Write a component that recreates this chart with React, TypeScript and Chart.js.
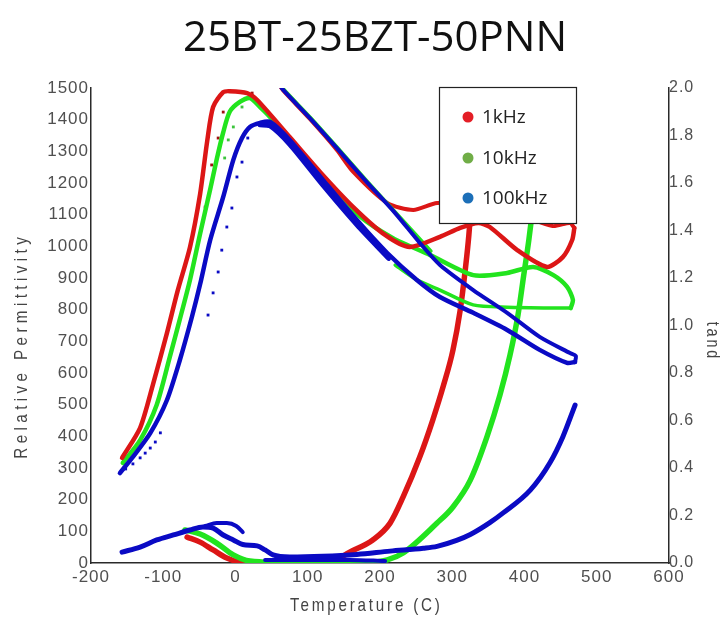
import React, { useEffect, useRef } from 'react';
import { Chart, registerables } from 'chart.js';

Chart.register(...registerables);

type P = [number, number];

const TITLE = '25BT-25BZT-50PNN';
const SERIES_NAMES = ['1kHz', '10kHz', '100kHz'];
const X_TITLE = 'Temperature (C)';
const Y_TITLE = 'Relative Permittivity';
const Y2_TITLE = 'tand';
const X_TICKS = [-200, -100, 0, 100, 200, 300, 400, 500, 600];
const PERM_TICKS = [0, 100, 200, 300, 400, 500, 600, 700, 800, 900, 1000, 1100, 1200, 1300, 1400, 1500];
const TAN_TICKS = [0, 0.2, 0.4, 0.6, 0.8, 1.0, 1.2, 1.4, 1.6, 1.8, 2.0];

// ---- 1 kHz ----
const perm1kLower: P[] = [
  [-157, 332], [-132, 427], [-114, 566], [-95, 725], [-80, 860], [-63, 997], [-49, 1165], [-39, 1335],
  [-31, 1440], [-17, 1487], [-8, 1490], [16, 1484], [30, 1462], [75, 1345], [117, 1235], [163, 1124],
  [207, 1036], [241, 998], [283, 1030], [311, 1058], [336, 1074], [352, 1061], [390, 988], [431, 935],
  [453, 966], [466, 1020], [469, 1058],
];
const perm1kUpper: P[] = [
  [469, 1058], [463, 1074], [439, 1064], [394, 1099], [339, 1131], [279, 1137], [246, 1115], [210, 1137],
  [163, 1235], [140, 1305], [103, 1402], [66, 1492], [60, 1513],
];
const perm1kDots: P[] = [
  [23, 1484], [-17, 1424], [-24, 1342], [-33, 1257], [-42, 1124],
];
const tan1k: P[] = [
  [-67, 0.109], [-49, 0.088], [-31, 0.055], [-12, 0.021], [6, 0.004], [62, 0.0], [131, 0.004], [158, 0.046],
  [190, 0.097], [214, 0.168], [232, 0.278], [255, 0.446], [273, 0.602], [288, 0.749], [301, 0.897],
  [311, 1.065], [318, 1.234], [323, 1.381], [327, 1.549],
];

// ---- 10 kHz ----
const perm10kLower: P[] = [
  [-156, 316], [-132, 388], [-109, 500], [-91, 650], [-77, 770], [-63, 894], [-49, 1040], [-35, 1180],
  [-26, 1275], [-17, 1360], [-8, 1425], [6, 1456], [20, 1468], [34, 1440], [48, 1408], [89, 1300],
  [131, 1192], [172, 1095], [218, 1026], [269, 973], [329, 909], [376, 916], [412, 935], [440, 909],
  [459, 872], [467, 831], [464, 805],
];
const perm10kReturn: P[] = [
  [464, 805], [459, 805], [376, 808], [329, 815], [283, 862], [251, 894], [221, 941],
];
const perm10kUpper: P[] = [
  [270, 985], [222, 1105], [180, 1210], [141, 1311], [104, 1405], [67, 1494], [61, 1513],
];
const perm10kDots: P[] = [
  [9, 1440], [-3, 1377], [-10, 1336], [-15, 1279],
];
const tan10k: P[] = [
  [-70, 0.139], [-49, 0.122], [-26, 0.084], [-3, 0.034], [20, 0.008], [89, 0.0], [172, 0.0], [210, 0.013],
  [232, 0.042], [279, 0.168], [301, 0.236], [325, 0.349], [348, 0.531], [366, 0.707], [380, 0.876],
  [391, 1.044], [399, 1.213], [406, 1.36], [412, 1.507],
];

// ---- 100 kHz ----
const perm100kLower: P[] = [
  [-160, 284], [-142, 335], [-118, 410], [-95, 514], [-77, 641], [-60, 780], [-49, 880], [-35, 1020],
  [-17, 1156], [-3, 1273], [9, 1342], [20, 1377], [34, 1390], [48, 1393], [75, 1336], [121, 1210],
  [168, 1083], [210, 979], [251, 894], [283, 840], [329, 790], [376, 736], [421, 673], [459, 632], [470, 635],
];
const perm100kReturn: P[] = [
  [212, 962], [168, 1068], [121, 1193], [75, 1322], [48, 1380], [34, 1384],
];
const perm100kUpper: P[] = [
  [470, 635], [471, 654], [463, 663], [421, 714], [376, 790], [329, 862], [283, 941], [255, 1011],
  [221, 1105], [179, 1210], [140, 1311], [103, 1405], [66, 1494], [60, 1513],
];
const perm100kDots: P[] = [
  [17, 1342], [9, 1266], [2, 1219], [-5, 1121], [-12, 1061], [-19, 988], [-24, 919], [-31, 853], [-38, 783],
  [-104, 411], [-111, 382], [-118, 363], [-125, 347], [-132, 332], [-142, 313], [-152, 297],
];
const tan100k: P[] = [
  [-157, 0.046], [-132, 0.067], [-109, 0.097], [-86, 0.118], [-63, 0.139], [-45, 0.152], [-31, 0.147],
  [-17, 0.118], [-3, 0.097], [10, 0.078], [30, 0.072], [41, 0.055], [52, 0.034], [75, 0.025], [121, 0.028],
  [168, 0.036], [214, 0.05], [260, 0.062], [279, 0.07], [306, 0.095], [325, 0.12], [352, 0.17],
  [370, 0.21], [408, 0.307], [435, 0.421], [453, 0.531], [470, 0.665],
];
const tan100kUpper: P[] = [
  [-42, 0.156], [-26, 0.168], [-12, 0.168], [1, 0.156], [10, 0.13],
];
const tan100kFlat: P[] = [
  [41, 0.013], [89, 0.013], [158, 0.013], [207, 0.008],
];

const RED = '#dc1616';
const GREEN = '#22e41e';
const BLUE = '#0a0ac4';
const LEGEND_COLORS = ['#e41e26', '#70ad47', '#1c6fb8'];

const AXIS_FONT = '"Liberation Sans", Arial, sans-serif';
const SANS = '"Open Sans", "Noto Sans", sans-serif';

const toXY = (pts: P[]) => pts.map(([x, y]) => ({ x, y }));

function lineDs(label: string, pts: P[], color: string, width: number, axis: string, order: number, monotone = false) {
  return {
    label,
    data: toXY(pts),
    borderColor: color,
    backgroundColor: color,
    borderWidth: width,
    pointRadius: 0,
    showLine: true,
    tension: 0.25,
    cubicInterpolationMode: monotone ? 'monotone' : 'default',
    yAxisID: axis,
    order,
    borderCapStyle: 'round',
    borderJoinStyle: 'round',
  };
}

function dotDs(label: string, pts: P[], color: string, axis: string, order: number) {
  return {
    label,
    data: toXY(pts),
    borderColor: color,
    backgroundColor: color,
    pointRadius: 2,
    pointBorderWidth: 0,
    pointStyle: 'rect',
    showLine: false,
    yAxisID: axis,
    order,
  };
}

function narrowText(ctx: any, text: string, x: number, y: number, angle: number, spacing: number) {
  ctx.save();
  ctx.translate(x, y);
  ctx.rotate(angle);
  ctx.scale(0.8, 1);
  ctx.letterSpacing = `${spacing}px`;
  ctx.fillText(text, spacing / 2, 0);
  ctx.restore();
}

const overlayPlugin = {
  id: 'overlay',
  beforeDraw(chart: any) {
    chart.ctx.letterSpacing = '1px';
  },
  afterDraw(chart: any) {
    const ctx = chart.ctx as any;
    ctx.save();
    ctx.letterSpacing = '0px';
    // Title
    ctx.fillStyle = '#111';
    ctx.font = `42px ${SANS}`;
    ctx.textAlign = 'center';
    ctx.textBaseline = 'alphabetic';
    ctx.fillText(TITLE, 375, 51);

    // Axis titles (condensed, letter spaced)
    ctx.fillStyle = '#444';
    ctx.font = `19px ${AXIS_FONT}`;
    ctx.textBaseline = 'middle';
    ctx.textAlign = 'center';
    narrowText(ctx, X_TITLE, 365, 606, 0, 3.5);
    narrowText(ctx, Y_TITLE, 22, 348, -Math.PI / 2, 5.5);
    ctx.font = `18px ${AXIS_FONT}`;
    narrowText(ctx, Y2_TITLE, 712, 340, Math.PI / 2, 3.5);

    // Legend box
    ctx.letterSpacing = '0px';
    const bx = 439, by = 87, bw = 137, bh = 136;
    ctx.fillStyle = '#ffffff';
    ctx.fillRect(bx, by, bw, bh);
    ctx.strokeStyle = '#222';
    ctx.lineWidth = 1.2;
    ctx.strokeRect(bx + 0.5, by + 0.5, bw, bh);
    const rows = [117, 158, 198];
    ctx.font = `19px ${SANS}`;
    ctx.textAlign = 'left';
    ctx.textBaseline = 'middle';
    SERIES_NAMES.forEach((name, i) => {
      ctx.beginPath();
      ctx.fillStyle = LEGEND_COLORS[i];
      ctx.arc(468, rows[i], 5.5, 0, Math.PI * 2);
      ctx.fill();
      ctx.fillStyle = '#222';
      ctx.fillText(name, 482, rows[i] + 1);
    });
    ctx.restore();
    ctx.letterSpacing = '0px';
  },
};

export default function App() {
  const ref = useRef<HTMLCanvasElement>(null);

  useEffect(() => {
    const datasets: any[] = [
      // 1 kHz (red)
      lineDs('1kHz permittivity', perm1kLower, RED, 4.5, 'y', 1.5),
      lineDs('1kHz permittivity return', perm1kUpper, RED, 4, 'y', 3),
      dotDs('1kHz permittivity sparse', perm1kDots, '#a01010', 'y', 3),
      lineDs('1kHz tan', tan1k, RED, 5.5, 'y1', 3, true),
      // 10 kHz (green)
      lineDs('10kHz permittivity', perm10kLower, GREEN, 4.5, 'y', 2),
      lineDs('10kHz permittivity return', perm10kReturn, GREEN, 3.5, 'y', 2),
      lineDs('10kHz permittivity upper', perm10kUpper, GREEN, 4, 'y', 2),
      dotDs('10kHz permittivity sparse', perm10kDots, '#3cc43c', 'y', 2),
      lineDs('10kHz tan', tan10k, GREEN, 5.5, 'y1', 2, true),
      // 100 kHz (blue)
      lineDs('100kHz permittivity', perm100kLower, BLUE, 4.5, 'y', 1),
      lineDs('100kHz permittivity return', perm100kReturn, BLUE, 5, 'y', 1),
      lineDs('100kHz permittivity upper', perm100kUpper, BLUE, 4, 'y', 1),
      dotDs('100kHz permittivity sparse', perm100kDots, BLUE, 'y', 1),
      lineDs('100kHz tan', tan100k, BLUE, 5, 'y1', 1, true),
      lineDs('100kHz tan upper', tan100kUpper, BLUE, 4, 'y1', 1, true),
      lineDs('100kHz tan flat', tan100kFlat, BLUE, 4, 'y1', 1, true),
    ];

    const tickFont = { family: AXIS_FONT, size: 17 };
    const border = { display: true, color: '#2a2a2a', width: 1.5 };
    const grid = { display: false, drawTicks: false };

    const chart = new Chart(ref.current as HTMLCanvasElement, {
      type: 'scatter',
      data: { datasets },
      options: {
        responsive: false,
        animation: false,
        events: [],
        layout: { padding: { top: 88, left: 0, right: 0, bottom: 0 } },
        plugins: {
          legend: { display: false },
          title: { display: false },
          tooltip: { enabled: false },
        },
        scales: {
          x: {
            type: 'linear',
            min: -200,
            max: 600,
            afterBuildTicks: (s: any) => { s.ticks = X_TICKS.map((v) => ({ value: v })); },
            afterFit: (s: any) => { s.height = 59; },
            grid,
            border,
            ticks: { font: tickFont, color: '#505050', padding: 4, maxRotation: 0, autoSkip: false, callback: (v: any) => `${v}` },
          },
          y: {
            type: 'linear',
            position: 'left',
            min: 0,
            max: 1500,
            afterBuildTicks: (s: any) => { s.ticks = PERM_TICKS.map((v) => ({ value: v })); },
            afterFit: (s: any) => { s.width = 91; },
            grid,
            border,
            ticks: { font: tickFont, color: '#505050', padding: 2, autoSkip: false, callback: (v: any) => `${v}` },
          },
          y1: {
            type: 'linear',
            position: 'right',
            min: 0,
            max: 2,
            afterBuildTicks: (s: any) => { s.ticks = TAN_TICKS.map((v) => ({ value: v })); },
            afterFit: (s: any) => { s.width = 56; },
            grid,
            border,
            ticks: {
              font: { family: AXIS_FONT, size: 16 },
              color: '#505050',
              padding: 0,
              autoSkip: false,
              callback: (v: any) => Number(v).toFixed(1),
            },
          },
        },
      } as any,
      plugins: [overlayPlugin as any],
    });
    return () => chart.destroy();
  }, []);

  return (
    <div style={{ position: 'fixed', left: 0, top: 0, width: 725, height: 622, background: '#fff' }}>
      <canvas ref={ref} width={725} height={622} style={{ display: 'block', width: 725, height: 622 }} />
    </div>
  );
}
